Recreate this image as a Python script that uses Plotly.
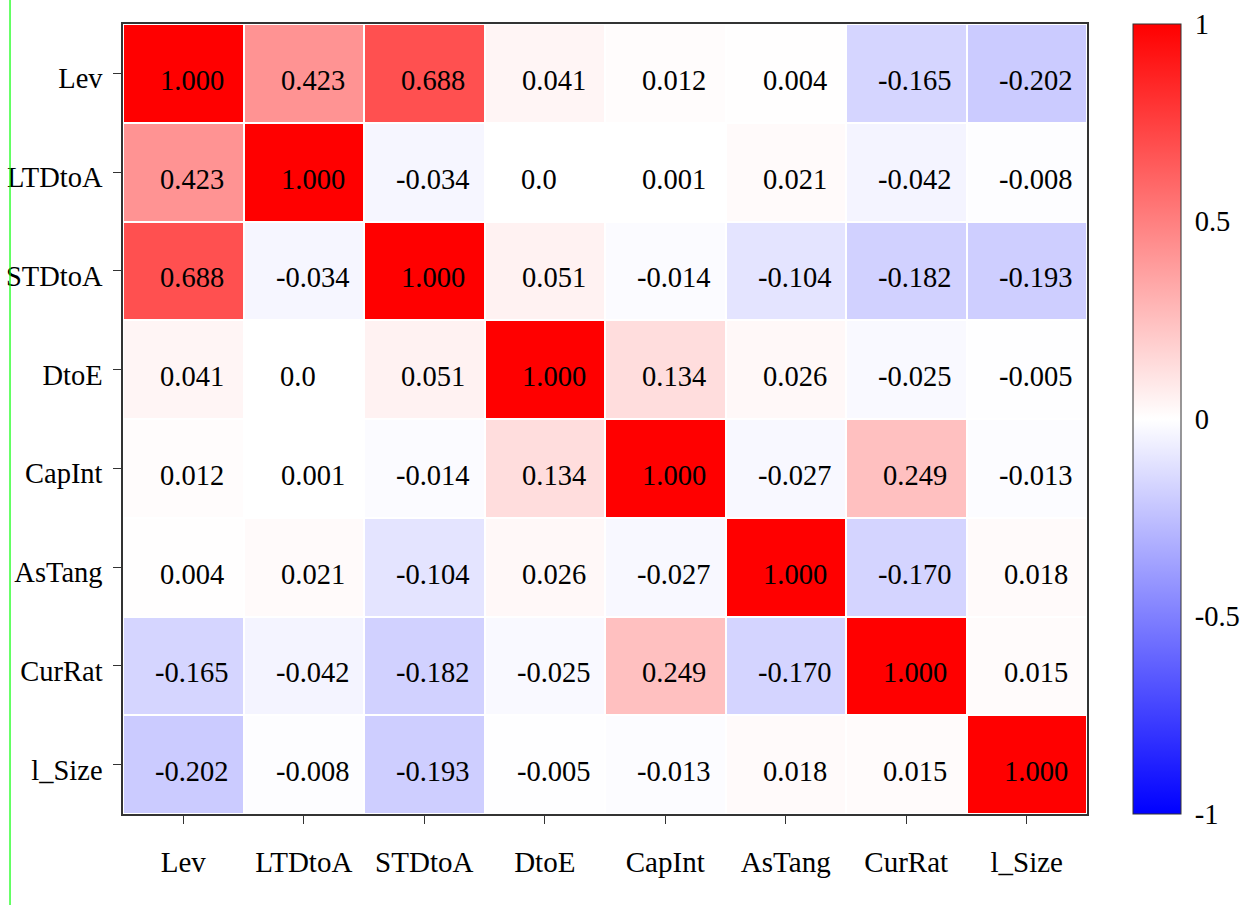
import plotly.graph_objects as go

variables = ["Lev", "LTDtoA", "STDtoA", "DtoE", "CapInt", "AsTang", "CurRat", "l_Size"]

row_lev    = [1.000, 0.423, 0.688, 0.041, 0.012, 0.004, -0.165, -0.202]
row_ltdtoa = [0.423, 1.000, -0.034, 0.0, 0.001, 0.021, -0.042, -0.008]
row_stdtoa = [0.688, -0.034, 1.000, 0.051, -0.014, -0.104, -0.182, -0.193]
row_dtoe   = [0.041, 0.0, 0.051, 1.000, 0.134, 0.026, -0.025, -0.005]
row_capint = [0.012, 0.001, -0.014, 0.134, 1.000, -0.027, 0.249, -0.013]
row_astang = [0.004, 0.021, -0.104, 0.026, -0.027, 1.000, -0.170, 0.018]
row_currat = [-0.165, -0.042, -0.182, -0.025, 0.249, -0.170, 1.000, 0.015]
row_lsize  = [-0.202, -0.008, -0.193, -0.005, -0.013, 0.018, 0.015, 1.000]

corr = [row_lev, row_ltdtoa, row_stdtoa, row_dtoe, row_capint, row_astang, row_currat, row_lsize]

colorbar_ticks = [-1, -0.5, 0, 0.5, 1]
colorbar_labels = ["-1", "-0.5", "0", "0.5", "1"]


def fmt(v):
    return "0.0" if v == 0 else f"{v:.3f}"


FONT = "Liberation Serif, Times New Roman, serif"
bwr = [[0.0, "rgb(0,0,255)"], [0.5, "rgb(255,255,255)"], [1.0, "rgb(255,0,0)"]]

fig = go.Figure(
    go.Heatmap(
        z=corr,
        x=variables,
        y=variables,
        zmin=-1,
        zmax=1,
        colorscale=bwr,
        xgap=2,
        ygap=2,
        hoverinfo="skip",
        colorbar=dict(
            tickvals=colorbar_ticks,
            ticktext=colorbar_labels,
            thickness=48,
            thicknessmode="pixels",
            len=1,
            lenmode="fraction",
            x=1.0477,
            xanchor="left",
            xpad=0,
            y=0.5,
            yanchor="middle",
            ypad=0,
            outlinecolor="#333",
            outlinewidth=1,
            ticks="outside",
            ticklen=8,
            tickcolor="rgba(0,0,0,0)",
            tickfont=dict(family=FONT, size=28.5, color="black"),
        ),
    )
)

annotations = []
for i, rname in enumerate(variables):
    for j, cname in enumerate(variables):
        label = fmt(corr[i][j])
        annotations.append(
            dict(
                x=cname,
                y=rname,
                text=label,
                showarrow=False,
                xshift=9 if label != "0.0" else -6,
                yshift=-7,
                font=dict(family=FONT, size=28.5, color="black"),
            )
        )

fig.update_layout(
    width=1242,
    height=905,
    margin=dict(l=123, r=155, t=24, b=91, autoexpand=False),
    paper_bgcolor="white",
    plot_bgcolor="white",
    font=dict(family=FONT, size=29, color="black"),
    annotations=annotations,
    shapes=[
        dict(
            type="line",
            xref="paper",
            yref="paper",
            x0=-0.1172,
            x1=-0.1172,
            y0=-0.13,
            y1=1.04,
            line=dict(color="#00ff00", width=1.2),
        )
    ],
)

fig.update_xaxes(
    automargin=False,
    showline=True,
    mirror=True,
    linecolor="#333",
    linewidth=1.5,
    ticks="outside",
    ticklen=8,
    tickcolor="#333",
    ticklabelstandoff=13,
    showgrid=False,
    zeroline=False,
    tickfont=dict(family=FONT, size=29, color="black"),
)
fig.update_yaxes(
    automargin=False,
    autorange="reversed",
    showline=True,
    mirror=True,
    linecolor="#333",
    linewidth=1.5,
    ticks="outside",
    ticklen=8,
    tickcolor="#333",
    ticklabelstandoff=5,
    ticklabelshift=-5,
    showgrid=False,
    zeroline=False,
    tickfont=dict(family=FONT, size=28.5, color="black"),
)

fig.write_html(
    "out.html",
    config={"displayModeBar": False},
    post_script="document.body.style.margin='0';document.body.style.overflow='hidden';",
)
